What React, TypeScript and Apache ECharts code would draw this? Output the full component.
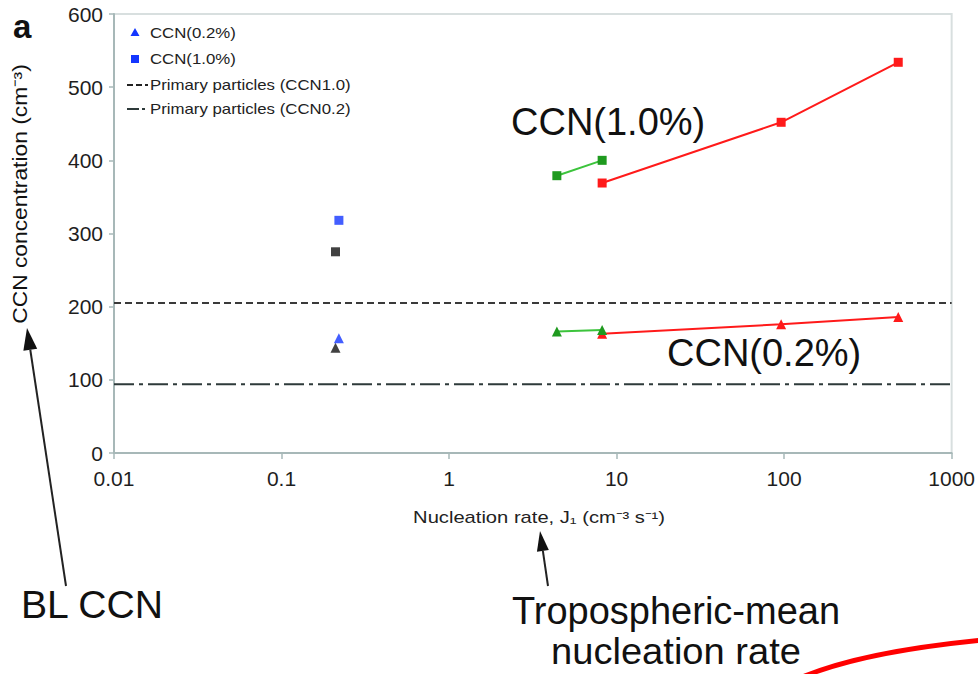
import { useEffect, useRef } from "react";
import * as echarts from "echarts";

// ---- data ----
const xRange = [0.01, 1000];
const yRange = [0, 600];
const yInterval = 100;

const blueSquareCCN10 = [[0.22, 318]];
const blackSquareCCN10 = [[0.21, 275]];
const blueTriangleCCN02 = [[0.22, 157]];
const blackTriangleCCN02 = [[0.21, 144]];

const greenCCN10 = [[4.4, 379], [8.2, 400]];
const redCCN10 = [[8.2, 369], [96, 452], [480, 534]];
const greenCCN02 = [[4.4, 166], [8.2, 168]];
const redCCN02 = [[8.2, 163], [96, 176], [480, 186]];

const primaryCCN10 = 205;
const primaryCCN02 = 94;

const legendLabels = ["CCN(0.2%)", "CCN(1.0%)", "Primary particles (CCN1.0)", "Primary particles (CCN0.2)"];
const xAxisTitle = "Nucleation rate, J\u2081 (cm\u207B\u00B3 s\u207B\u00B9)";
const yAxisTitle = "CCN concentration (cm\u207B\u00B3)";

const FONT = "'Liberation Sans', Arial, Helvetica, sans-serif";

function arrowHead(tip: number[], tail: number[], len: number, half: number) {
  const dx = tip[0] - tail[0];
  const dy = tip[1] - tail[1];
  const d = Math.hypot(dx, dy);
  const ux = dx / d, uy = dy / d;
  const bx = tip[0] - ux * len, by = tip[1] - uy * len;
  const px = -uy, py = ux;
  return {
    base: [bx, by],
    points: [tip, [bx + px * half, by + py * half], [bx - px * half, by - py * half]],
  };
}

export default function App() {
  const ref = useRef<HTMLDivElement>(null);
  useEffect(() => {
    if (!ref.current) return;
    const chart = echarts.init(ref.current, undefined, { renderer: "svg" });

    const blTail = [66, 586];
    const blTip = [27, 328];
    const blHead = arrowHead(blTip, blTail, 22, 7);
    const trTail = [548, 586];
    const trTip = [540, 531];
    const trHead = arrowHead(trTip, trTail, 20, 6);

    const legendY = [33, 59, 85, 109];

    const axisColor = "#a7b8b8";
    const green = "#1f9a1f";
    const greenLine = "#3cc43c";
    const red = "#ff1a1a";
    const blue = "#1436ff";

    chart.setOption({
      animation: false,
      backgroundColor: "#ffffff",
      grid: {
        left: 114,
        right: 26,
        top: 14,
        bottom: 221,
        show: true,
        borderColor: "#d8dfdf",
        borderWidth: 2,
        containLabel: false,
      },
      xAxis: {
        type: "log",
        logBase: 10,
        min: xRange[0],
        max: xRange[1],
        axisLine: { show: true, lineStyle: { color: axisColor, width: 2 } },
        axisTick: { show: true, length: 6, lineStyle: { color: axisColor, width: 1.5 } },
        minorTick: { show: false },
        splitLine: { show: false },
        axisLabel: {
          fontSize: 21,
          color: "#1e1e1e",
          fontFamily: FONT,
          margin: 15,
          formatter: (v: number) => String(+v.toPrecision(6)),
        },
      },
      yAxis: {
        type: "value",
        min: yRange[0],
        max: yRange[1],
        interval: yInterval,
        axisLine: { show: true, lineStyle: { color: axisColor, width: 2 } },
        axisTick: { show: true, length: 5, lineStyle: { color: axisColor, width: 1.5 } },
        splitLine: { show: false },
        axisLabel: { fontSize: 21, color: "#1e1e1e", fontFamily: FONT, margin: 11 },
      },
      series: [
        {
          type: "line",
          data: [[xRange[0], primaryCCN10], [xRange[1], primaryCCN10]],
          symbol: "none",
          lineStyle: { color: "#3a3a3a", width: 2, type: [7, 4] },
          silent: true,
        },
        {
          type: "line",
          data: [[xRange[0], primaryCCN02], [xRange[1], primaryCCN02]],
          symbol: "none",
          lineStyle: { color: "#2e3a3a", width: 2, type: [20, 5, 4, 5] },
          silent: true,
        },
        {
          type: "line",
          data: redCCN10,
          symbol: "rect",
          symbolSize: 9,
          itemStyle: { color: red },
          lineStyle: { color: red, width: 2 },
        },
        {
          type: "line",
          data: greenCCN10,
          symbol: "rect",
          symbolSize: 9,
          itemStyle: { color: green },
          lineStyle: { color: greenLine, width: 2 },
        },
        {
          type: "line",
          data: redCCN02,
          symbol: "triangle",
          symbolSize: 10,
          itemStyle: { color: red },
          lineStyle: { color: red, width: 2 },
        },
        {
          type: "line",
          data: greenCCN02,
          symbol: "triangle",
          symbolSize: 10,
          itemStyle: { color: green },
          lineStyle: { color: greenLine, width: 2 },
        },
        {
          type: "scatter",
          data: blackSquareCCN10,
          symbol: "rect",
          symbolSize: 9,
          itemStyle: { color: "#111" },
        },
        {
          type: "scatter",
          data: blueSquareCCN10,
          symbol: "rect",
          symbolSize: 9,
          itemStyle: { color: blue },
        },
        {
          type: "scatter",
          data: blackTriangleCCN02,
          symbol: "triangle",
          symbolSize: 10,
          itemStyle: { color: "#111" },
        },
        {
          type: "scatter",
          data: blueTriangleCCN02,
          symbol: "triangle",
          symbolSize: 10,
          itemStyle: { color: blue },
        },
      ],
      graphic: [
        // panel letter
        {
          type: "text",
          left: 13,
          top: 10,
          style: { text: "a", fontSize: 33, fontWeight: "bold", fill: "#111", fontFamily: FONT },
        },
        // legend
        {
          type: "group",
          children: [
            {
              type: "polygon",
              shape: { points: [[135, legendY[0] - 5], [139.5, legendY[0] + 3], [130.5, legendY[0] + 3]] },
              style: { fill: blue },
            },
            {
              type: "rect",
              shape: { x: 131, y: legendY[1] - 4, width: 8, height: 8 },
              style: { fill: blue },
            },
            {
              type: "line",
              shape: { x1: 127, y1: legendY[2], x2: 148, y2: legendY[2] },
              style: { stroke: "#222", lineWidth: 2, lineDash: [6, 3] },
            },
            {
              type: "line",
              shape: { x1: 127, y1: legendY[3], x2: 148, y2: legendY[3] },
              style: { stroke: "#2e3a3a", lineWidth: 2, lineDash: [12, 3, 3, 3] },
            },
            ...legendLabels.map((t, i) => ({
              type: "text",
              x: 150,
              y: legendY[i],
              scaleX: 1.2,
              style: {
                text: t,
                fontSize: 14,
                fill: "#222",
                fontFamily: FONT,
                verticalAlign: "middle",
              },
            })),
          ],
        },
        // axis titles
        {
          type: "text",
          x: 539,
          y: 518,
          scaleX: 1.26,
          style: {
            text: xAxisTitle,
            fontSize: 16,
            fill: "#222",
            fontFamily: FONT,
            align: "center",
            verticalAlign: "middle",
          },
        },
        {
          type: "text",
          x: 20,
          y: 194,
          rotation: Math.PI / 2,
          scaleX: 1.14,
          style: {
            text: yAxisTitle,
            fontSize: 20,
            fill: "#111",
            fontFamily: FONT,
            align: "center",
            verticalAlign: "middle",
          },
        },
        // in-plot annotations
        {
          type: "text",
          x: 511,
          y: 122,
          style: { text: "CCN(1.0%)", fontSize: 38, fill: "#111", fontFamily: FONT, verticalAlign: "middle" },
        },
        {
          type: "text",
          x: 667,
          y: 353,
          style: { text: "CCN(0.2%)", fontSize: 38, fill: "#111", fontFamily: FONT, verticalAlign: "middle" },
        },
        // below-chart annotations
        {
          type: "text",
          x: 21,
          y: 605,
          scaleX: 1.03,
          style: { text: "BL CCN", fontSize: 38, fill: "#111", fontFamily: FONT, verticalAlign: "middle" },
        },
        {
          type: "text",
          x: 676,
          y: 611,
          style: {
            text: "Tropospheric-mean",
            fontSize: 38,
            fill: "#111",
            fontFamily: FONT,
            align: "center",
            verticalAlign: "middle",
          },
        },
        {
          type: "text",
          x: 676,
          y: 651,
          scaleX: 1.03,
          style: {
            text: "nucleation rate",
            fontSize: 37,
            fill: "#111",
            fontFamily: FONT,
            align: "center",
            verticalAlign: "middle",
          },
        },
        // arrows
        {
          type: "line",
          shape: { x1: blTail[0], y1: blTail[1], x2: blHead.base[0], y2: blHead.base[1] },
          style: { stroke: "#222", lineWidth: 2 },
        },
        { type: "polygon", shape: { points: blHead.points }, style: { fill: "#111" } },
        {
          type: "line",
          shape: { x1: trTail[0], y1: trTail[1], x2: trHead.base[0], y2: trHead.base[1] },
          style: { stroke: "#222", lineWidth: 2 },
        },
        { type: "polygon", shape: { points: trHead.points }, style: { fill: "#111" } },
        // red hand-drawn curve at bottom right
        {
          type: "bezierCurve",
          shape: { x1: 800, y1: 678, cpx1: 860, cpy1: 652, x2: 982, y2: 640 },
          style: { stroke: "#ff0000", lineWidth: 5, fill: "none" },
        },
      ],
    });
    return () => chart.dispose();
  }, []);
  return (
    <div
      ref={ref}
      style={{ position: "fixed", left: 0, top: 0, width: 978, height: 674, background: "#fff" }}
    />
  );
}
